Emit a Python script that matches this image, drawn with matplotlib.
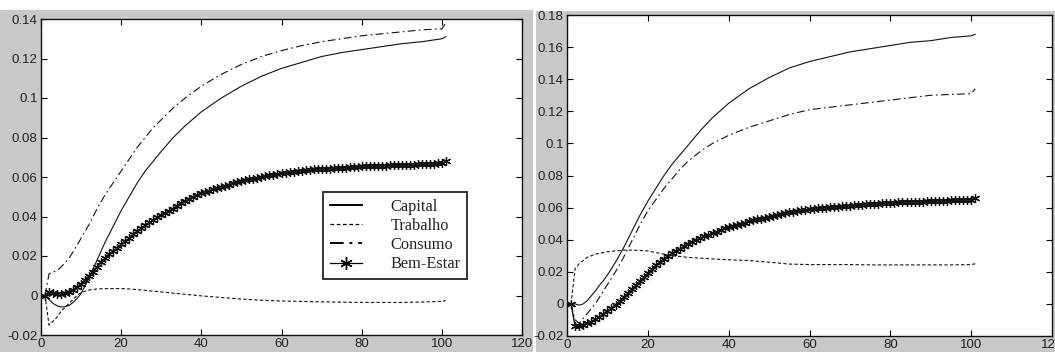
import matplotlib
matplotlib.use("Agg")
import matplotlib.pyplot as plt
from matplotlib.patches import Rectangle
from matplotlib.lines import Line2D

# ---------------- data ----------------
periods = [1, 2, 3, 4, 5, 6, 7, 8, 9, 10, 12, 14, 16, 18, 20, 22, 24, 26, 28, 30,
           33, 36, 40, 45, 50, 55, 60, 65, 70, 75, 80, 85, 90, 95, 100, 101]
periods_all = list(range(1, 102))

labels = ["Capital", "Trabalho", "Consumo", "Bem-Estar"]

# Left panel
left_capital = [0, -0.002, -0.004, -0.0052, -0.0058, -0.0057, -0.005, -0.0035, -0.0015, 0.001,
                0.009, 0.018, 0.027, 0.035, 0.043, 0.050, 0.057, 0.063, 0.068, 0.073,
                0.080, 0.086, 0.093, 0.100, 0.106, 0.111, 0.115, 0.118, 0.121, 0.123,
                0.1245, 0.126, 0.1275, 0.1285, 0.130, 0.131]
left_trabalho = [0, -0.015, -0.013, -0.011, -0.008, -0.006, -0.004, -0.002, 0.0, 0.0015,
                 0.0028, 0.0033, 0.0035, 0.0035, 0.0035, 0.0033, 0.003, 0.0026, 0.0022, 0.0018,
                 0.0012, 0.0006, -0.0002, -0.001, -0.0018, -0.0024, -0.0028, -0.003, -0.0032, -0.0034,
                 -0.0035, -0.0035, -0.0035, -0.0033, -0.003, -0.0025]
left_consumo = [0, 0.011, 0.012, 0.0125, 0.0145, 0.0165, 0.019, 0.022, 0.0255, 0.029,
                0.036, 0.044, 0.051, 0.057, 0.063, 0.069, 0.075, 0.080, 0.085, 0.089,
                0.095, 0.100, 0.106, 0.112, 0.117, 0.121, 0.124, 0.1265, 0.1285, 0.130,
                0.1315, 0.1325, 0.1335, 0.1345, 0.135, 0.138]
left_bemestar = [0.0, 0.002, 0.0015, 0.001, 0.001, 0.0015, 0.002, 0.003, 0.0045, 0.006,
                 0.008, 0.010, 0.012, 0.0145, 0.017, 0.019, 0.021, 0.0225, 0.024, 0.026,
                 0.0275, 0.029, 0.031, 0.0325, 0.034, 0.0355, 0.037, 0.038, 0.0395, 0.041,
                 0.042, 0.043, 0.044, 0.0455, 0.047, 0.048, 0.049, 0.050, 0.051, 0.052,
                 0.0525, 0.053, 0.054, 0.0545, 0.055, 0.0556, 0.0562, 0.057, 0.0575, 0.058,
                 0.0584, 0.0588, 0.0592, 0.0596, 0.060, 0.0604, 0.0608, 0.0612, 0.0616, 0.062,
                 0.0622, 0.0625, 0.0627, 0.063, 0.0632, 0.0634, 0.0636, 0.0638, 0.0639, 0.064,
                 0.0641, 0.0643, 0.0644, 0.0645, 0.0646, 0.0648, 0.0649, 0.065, 0.0652, 0.0655,
                 0.0656, 0.0656, 0.0657, 0.0657, 0.0658, 0.0658, 0.0659, 0.0659, 0.066, 0.066,
                 0.0661, 0.0662, 0.0663, 0.0664, 0.0665, 0.0666, 0.0667, 0.0668, 0.0669, 0.067,
                 0.068]

# Right panel
right_capital = [0, 0.0, -0.0008, 0.0, 0.002, 0.005, 0.008, 0.0115, 0.0145, 0.018,
                 0.026, 0.035, 0.045, 0.055, 0.064, 0.072, 0.080, 0.087, 0.093, 0.099,
                 0.108, 0.116, 0.125, 0.134, 0.141, 0.147, 0.151, 0.154, 0.157, 0.159,
                 0.161, 0.163, 0.164, 0.166, 0.167, 0.168]
right_trabalho = [0, 0.022, 0.025, 0.027, 0.029, 0.030, 0.031, 0.0315, 0.032, 0.0325,
                  0.033, 0.0335, 0.0335, 0.0333, 0.033, 0.032, 0.031, 0.030, 0.0295, 0.029,
                  0.0285, 0.028, 0.0275, 0.027, 0.026, 0.0248, 0.0245, 0.0245, 0.0245, 0.0243,
                  0.0243, 0.0243, 0.0243, 0.0243, 0.0245, 0.025]
right_consumo = [0, -0.010, -0.012, -0.009, -0.006, -0.003, 0.0, 0.004, 0.008, 0.012,
                 0.020, 0.029, 0.039, 0.049, 0.058, 0.065, 0.072, 0.078, 0.084, 0.089,
                 0.095, 0.100, 0.105, 0.110, 0.114, 0.118, 0.121, 0.1225, 0.124, 0.1255,
                 0.127, 0.1285, 0.130, 0.1305, 0.131, 0.134]
right_bemestar = [0.0, -0.014, -0.0138, -0.013, -0.012, -0.011, -0.0095, -0.008, -0.006, -0.0043,
                  -0.0025, -0.0005, 0.0015, 0.004, 0.0065, 0.009, 0.0115, 0.014, 0.0165, 0.019,
                  0.0215, 0.024, 0.026, 0.028, 0.030, 0.0315, 0.033, 0.0345, 0.036, 0.0375,
                  0.0388, 0.040, 0.041, 0.042, 0.043, 0.044, 0.045, 0.046, 0.047, 0.048,
                  0.0487, 0.0494, 0.050, 0.0507, 0.0514, 0.052, 0.0526, 0.0532, 0.0538, 0.0544,
                  0.055, 0.0555, 0.056, 0.0565, 0.057, 0.0574, 0.0578, 0.0582, 0.0586, 0.059,
                  0.0593, 0.0596, 0.0598, 0.060, 0.0602, 0.0604, 0.0606, 0.0608, 0.061, 0.0612,
                  0.0614, 0.0616, 0.0618, 0.062, 0.0621, 0.0622, 0.0624, 0.0626, 0.0628, 0.063,
                  0.0631, 0.0632, 0.0633, 0.0634, 0.0635, 0.0636, 0.0637, 0.0638, 0.0639, 0.064,
                  0.0641, 0.0642, 0.0643, 0.0644, 0.0645, 0.0646, 0.0647, 0.0648, 0.0649, 0.065,
                  0.066]

left_yticks = [-0.02, 0, 0.02, 0.04, 0.06, 0.08, 0.1, 0.12, 0.14]
left_yticklabels = ["-0.02", "0", "0.02", "0.04", "0.06", "0.08", "0.1", "0.12", "0.14"]
right_yticks = [-0.02, 0, 0.02, 0.04, 0.06, 0.08, 0.1, 0.12, 0.14, 0.16, 0.18]
right_yticklabels = ["-0.02", "0", "0.02", "0.04", "0.06", "0.08", "0.1", "0.12", "0.14", "0.16", "0.18"]
xticks = [0, 20, 40, 60, 80, 100, 120]
xticklabels = ["0", "20", "40", "60", "80", "100", "120"]

# ---------------- figure ----------------
W, H = 1055, 352
fig = plt.figure(figsize=(W / 100, H / 100), dpi=100, facecolor="white")

GRAY = "#c8c8c8"
def px_rect(x0, y0, x1, y1):
    return [x0 / W, 1 - y1 / H, (x1 - x0) / W, (y1 - y0) / H]

fig.patches.append(Rectangle((0, 0), 533 / W, 1 - 10 / H, transform=fig.transFigure,
                             facecolor=GRAY, edgecolor="none", zorder=-10))
fig.patches.append(Rectangle((536 / W, 0), 1 - 536 / W, 1 - 11 / H, transform=fig.transFigure,
                             facecolor=GRAY, edgecolor="none", zorder=-10))

ax1 = fig.add_axes(px_rect(41, 19, 522, 335))
ax2 = fig.add_axes(px_rect(567, 15, 1052, 336))

LC = "#111111"
asterisk = (6, 2, 0)

def style(ax, yticks, ylabels, ylim):
    ax.set_facecolor("white")
    ax.set_xlim(0, 120)
    ax.set_ylim(*ylim)
    ax.set_xticks(xticks)
    ax.set_xticklabels(xticklabels)
    ax.set_yticks(yticks)
    ax.set_yticklabels(ylabels)
    ax.tick_params(direction="in", length=4, width=0.8, top=True, right=True,
                   labelsize=9.5, labelcolor="#222222", pad=2.5)
    for lab in ax.get_xticklabels() + ax.get_yticklabels():
        lab.set_family(["Liberation Sans", "DejaVu Sans"])
    for s in ax.spines.values():
        s.set_linewidth(1.0)
        s.set_color("#111111")

def draw(ax, cap, trab, cons, bem):
    ax.plot(periods, cap, color=LC, lw=0.8, ls="-")
    ax.plot(periods, trab, color=LC, lw=0.8, ls=(0, (3, 2)))
    ax.plot(periods, cons, color=LC, lw=0.8, ls=(0, (7, 3, 1.5, 3)))
    ax.plot(periods_all, bem, color=LC, lw=1.0, ls="-", marker=asterisk,
            markersize=6.5, markeredgewidth=0.9)

draw(ax1, left_capital, left_trabalho, left_consumo, left_bemestar)
draw(ax2, right_capital, right_trabalho, right_consumo, right_bemestar)
style(ax1, left_yticks, left_yticklabels, (-0.02, 0.14))
style(ax2, right_yticks, right_yticklabels, (-0.02, 0.18))

handles = [
    Line2D([], [], color="black", lw=1.4, ls="-"),
    Line2D([], [], color="black", lw=0.9, ls=(0, (3, 2))),
    Line2D([], [], color="black", lw=1.4, ls=(0, (7, 3, 1.5, 3))),
    Line2D([], [], color="black", lw=0.9, ls="-", marker=asterisk, markersize=9,
           markevery=[1]),
]
leg = ax1.legend(handles, labels, loc="upper left",
                 bbox_to_anchor=(323 / W, 1 - 192 / H), bbox_transform=fig.transFigure,
                 prop={"family": ["Liberation Serif", "DejaVu Serif"], "size": 11.8},
                 frameon=True, fancybox=False, borderpad=0.4, labelspacing=0.2,
                 handlelength=2.0, handletextpad=1.7, borderaxespad=0)
leg.get_frame().set_edgecolor("black")
leg.get_frame().set_linewidth(1.4)
for t in leg.get_texts():
    t.set_color("#222222")

fig.savefig("out.png", dpi=100, facecolor="white")
